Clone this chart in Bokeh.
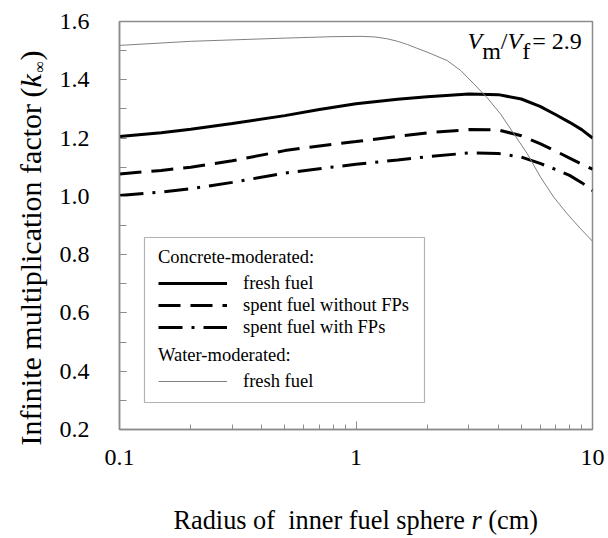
import math
from bokeh.plotting import figure
from bokeh.layouts import row, column
from bokeh.models import (Range1d, FixedTicker, SingleIntervalTicker, PrintfTickFormatter,
                          CustomJSTickFormatter, Label, Legend, LegendItem, BoxAnnotation)
from bokeh.embed import file_html
from bokeh.resources import INLINE

FONT = "Liberation Serif"

# ---- data ----
r_conc = [0.1, 0.15, 0.2, 0.3, 0.5, 0.7, 1.0, 1.5, 2.0, 3.0, 4.0, 5.0, 6.0, 7.0, 8.0, 9.0, 10.0]
k_conc_fresh = [1.205, 1.218, 1.230, 1.250, 1.277, 1.298, 1.318, 1.333, 1.342, 1.351, 1.349,
                1.334, 1.309, 1.280, 1.254, 1.229, 1.200]
k_conc_spent_nofp = [1.077, 1.089, 1.100, 1.122, 1.157, 1.173, 1.188, 1.206, 1.218, 1.229, 1.228,
                     1.208, 1.181, 1.155, 1.131, 1.111, 1.093]
k_conc_spent_fp = [1.003, 1.015, 1.026, 1.048, 1.080, 1.095, 1.110, 1.125, 1.136, 1.149, 1.147,
                   1.135, 1.113, 1.092, 1.072, 1.047, 1.020]

r_water = [0.1, 0.2, 0.5, 0.8, 1.05, 1.2, 1.35, 1.5, 1.65, 1.8, 2.0, 2.43, 2.77, 3.15, 3.59,
           4.08, 4.65, 5.3, 6.03, 6.86, 7.82, 8.9, 10.0]
k_water_fresh = [1.518, 1.532, 1.543, 1.548, 1.549, 1.547, 1.541, 1.532, 1.521, 1.509, 1.495,
                 1.466, 1.432, 1.386, 1.338, 1.283, 1.215, 1.146, 1.066, 0.997, 0.940, 0.889,
                 0.846]

x_major = [0.1, 1, 10]
x_minor = [0.2, 0.3, 0.4, 0.5, 0.6, 0.7, 0.8, 0.9, 2, 3, 4, 5, 6, 7, 8, 9]

AX = "#8c8c8c"
LEFT_W = 50
TOP_H = 489
TOTAL_W = 606
BOTTOM_H = 47
BASE_SHIFT = 0.25  # em, empirical correction of the alphabetic baseline

p = figure(width=TOTAL_W - LEFT_W, height=TOP_H, x_axis_type="log",
           x_range=Range1d(0.1, 10), y_range=Range1d(0.2, 1.6),
           output_backend="svg", toolbar_location=None,
           min_border_left=119 - LEFT_W, min_border_right=14, min_border_top=21,
           min_border_bottom=TOP_H - 429)
p.grid.visible = False
p.outline_line_color = AX
p.outline_line_width = 1.5
p.background_fill_color = "white"
p.border_fill_color = "white"

for ax in (p.xaxis[0], p.yaxis[0]):
    ax.axis_line_color = AX
    ax.axis_line_width = 1.5
    ax.major_tick_line_color = AX
    ax.minor_tick_line_color = AX
    ax.major_tick_line_width = 1
    ax.minor_tick_line_width = 1
    ax.major_tick_out = 0
    ax.minor_tick_out = 0
    ax.major_label_text_font = FONT
    ax.major_label_text_font_size = "24px"
    ax.major_label_text_color = "black"

p.xaxis.ticker = FixedTicker(ticks=x_major, minor_ticks=x_minor)
p.xaxis.formatter = CustomJSTickFormatter(code="return String(tick)")
p.xaxis.major_tick_in = 8
p.xaxis.minor_tick_in = 5
p.xaxis.major_label_standoff = 20

p.yaxis.ticker = SingleIntervalTicker(interval=0.2, num_minor_ticks=2)
p.yaxis.formatter = PrintfTickFormatter(format="%.1f")
p.yaxis.major_tick_in = 7
p.yaxis.minor_tick_in = 7
p.yaxis.major_label_standoff = 30

# ---- curves ----
l_fresh = p.line(r_conc, k_conc_fresh, line_width=3, line_color="black")
l_nofp = p.line(r_conc, k_conc_spent_nofp, line_width=3, line_color="black", line_dash="22 10")
l_fp = p.line(r_conc, k_conc_spent_fp, line_width=3, line_color="black", line_dash="24 9 3 9")
l_water = p.line(r_water, k_water_fresh, line_width=1, line_color="#808080")

# ---- legend ----
def make_legend(title, items, loc):
    return Legend(items=items, location=loc, title=title,
                  title_text_font=FONT, title_text_font_size="18.5px", title_text_font_style="normal",
                  title_text_color="black", title_standoff=4,
                  label_text_font=FONT, label_text_font_size="18.5px", label_text_color="black",
                  glyph_width=69, glyph_height=22, label_height=22, label_standoff=16,
                  spacing=0, padding=0, margin=0,
                  border_line_alpha=0, background_fill_alpha=0)

leg1 = make_legend("Concrete-moderated:", [
    LegendItem(label="fresh fuel", renderers=[l_fresh]),
    LegendItem(label="spent fuel without FPs", renderers=[l_nofp]),
    LegendItem(label="spent fuel with FPs", renderers=[l_fp]),
], (39, 91))
leg2 = make_legend("Water-moderated:", [
    LegendItem(label="fresh fuel", renderers=[l_water]),
], (39, 37))
p.add_layout(leg1, "center")
p.add_layout(leg2, "center")

box = BoxAnnotation(left=25, right=305, bottom=27, top=192,
                    left_units="screen", right_units="screen",
                    top_units="screen", bottom_units="screen",
                    fill_alpha=0, line_color="black", line_width=1.2)
p.add_layout(box)


def lab(fig, text, x, y, size, style="normal", angle=0.0):
    fig.add_layout(Label(x=x, y=y, x_units="screen", y_units="screen", text=text,
                         text_font=FONT, text_font_size=f"{size}px", text_font_style=style,
                         text_color="black", angle=angle, text_align="left",
                         text_baseline="alphabetic"))


def strip(w, h):
    s = figure(width=w, height=h, output_backend="svg", toolbar_location=None,
               x_axis_location=None, y_axis_location=None, min_border=0,
               x_range=Range1d(0, 1), y_range=Range1d(0, 1), frame_align=False)
    s.grid.visible = False
    s.outline_line_color = None
    s.background_fill_color = "white"
    s.border_fill_color = "white"
    return s

# Vm/Vf annotation (relative to the frame of the main plot)
fv = 24
vx = 348
vy = 383 + BASE_SHIFT * fv
lab(p, "V", vx, vy, fv, style="italic")
lab(p, "m", vx + 0.611 * fv, vy - 10, fv)
xs = vx + (0.611 + 0.778) * fv
lab(p, "/", xs, vy, fv)
xs += 0.278 * fv
lab(p, "V", xs, vy, fv, style="italic")
xs += 0.611 * fv
lab(p, "f", xs, vy - 10, fv)
xs += 0.333 * fv
lab(p, "= 2.9", xs + 2, vy, fv)

# y axis title, in a strip left of the plot (page positions converted to strip coords)
left = strip(LEFT_W, TOP_H)
ang = math.pi / 2
fy = 30
fsub = 16
base_page = 37
lab(left, "Infinite multiplication factor", base_page - BASE_SHIFT * fy, TOP_H - 445, fy, angle=ang)
lab(left, "(", base_page - BASE_SHIFT * fy, TOP_H - 97, fy, angle=ang)
lab(left, "k", base_page - BASE_SHIFT * fy, TOP_H - 87, fy, style="italic", angle=ang)
lab(left, "\u221e", base_page + 6 - BASE_SHIFT * fsub, TOP_H - 72, fsub, angle=ang)
lab(left, ")", base_page - BASE_SHIFT * fy, TOP_H - 60, fy, angle=ang)

# x axis title, in a strip below
bottom = strip(TOTAL_W, BOTTOM_H)
fx = 26.3
sx = 173
by = BOTTOM_H - (527 - TOP_H) + BASE_SHIFT * fx
lab(bottom, "Radius of", sx, by, fx)
lab(bottom, "inner fuel sphere", sx + 4.361 * fx, by, fx)
lab(bottom, "r", sx + 11.331 * fx, by, fx, style="italic")
lab(bottom, "(cm)", sx + 11.97 * fx, by, fx)

layout = column(row(left, p, spacing=0), bottom, spacing=0)

open("out.html", "w").write(file_html(layout, INLINE))
